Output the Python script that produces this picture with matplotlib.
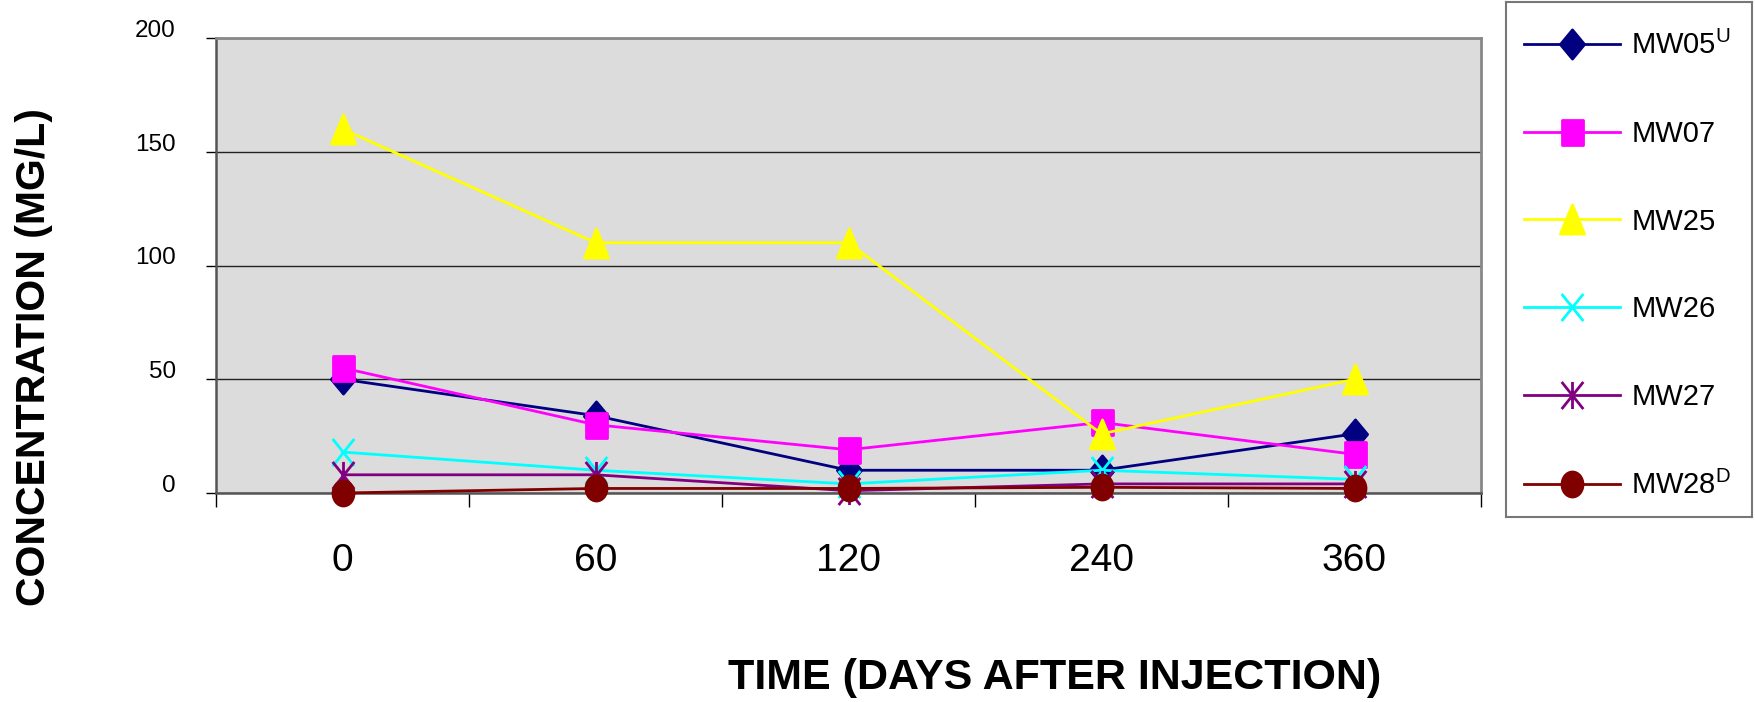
import matplotlib.pyplot as plt
import numpy as np
from matplotlib.path import Path
from matplotlib.transforms import ScaledTranslation

plt.rcParams['font.family'] = ['Liberation Sans', 'DejaVu Sans']
plt.rcParams['mathtext.fontset'] = 'custom'
plt.rcParams['mathtext.rm'] = 'Liberation Sans'

# data
days = ['0', '60', '120', '240', '360']
mw05 = [50, 34, 10, 10, 26]
mw07 = [55, 30, 19, 31, 17]
mw25 = [160, 110, 110, 26, 50]
mw26 = [18, 10, 4, 10, 6]
mw27 = [8, 8, 1, 4, 4]
mw28 = [0, 2, 2, 2.5, 2]

wells = [r'MW05$^{\mathrm{U}}$', 'MW07', 'MW25', 'MW26', 'MW27', r'MW28$^{\mathrm{D}}$']
series = [mw05, mw07, mw25, mw26, mw27, mw28]
colors = ['#000080', '#ff00ff', '#ffff00', '#00ffff', '#800080', '#800000']

# excel-like markers (a bit taller than wide)
L, M = Path.LINETO, Path.MOVETO
diamond = Path([(0, 1), (0.83, 0), (0, -1), (-0.83, 0), (0, 1)], closed=True)
square = Path([(-0.84, -1), (0.84, -1), (0.84, 1), (-0.84, 1), (-0.84, -1)], closed=True)
triangle = Path([(0, 1), (0.83, -1), (-0.83, -1), (0, 1)], closed=True)
xmark = Path([(-0.8, -1), (0.8, 1), (-0.8, 1), (0.8, -1)], [M, L, M, L])
star = Path([(-0.8, -1), (0.8, 1), (-0.8, 1), (0.8, -1), (0, -1), (0, 1)], [M, L, M, L, M, L])
circ = Path.unit_circle()
oval = Path(circ.vertices * np.array([0.84, 1.0]), circ.codes)

markers = [diamond, square, triangle, xmark, star, oval]
msizes = [21, 18, 21, 19.5, 19.5, 18]

fig = plt.figure(figsize=(17.55, 7.02), dpi=100)
ax = fig.add_axes([216 / 1755, 1 - 493 / 702, 1265 / 1755, 455 / 702])
ax.set_facecolor('#dcdcdc')

x = np.arange(len(days))
handles = []
for k in range(len(series)):
    h, = ax.plot(x, series[k], color=colors[k], lw=2.0, marker=markers[k],
                 markersize=msizes[k], markerfacecolor=colors[k],
                 markeredgecolor=colors[k], markeredgewidth=2.0,
                 label=wells[k], clip_on=False, zorder=3 + k)
    handles.append(h)

ax.set_xlim(-0.5, 4.5)
ax.set_ylim(0, 200)
ax.set_yticks([0, 50, 100, 150, 200])
ax.grid(axis='y', color='#222222', lw=1.0, zorder=1)
ax.set_axisbelow(True)

ax.set_xticks(x)
ax.set_xticklabels(days, fontsize=28)
ax.set_xticks(np.arange(-0.5, 5.0, 1.0), minor=True)
ax.tick_params(axis='x', which='major', length=0, pad=36)
ax.tick_params(axis='x', which='minor', length=10, width=1, color='black', direction='out')
ax.tick_params(axis='y', length=7, width=1, color='black', direction='out', labelsize=17.5, pad=22)
for lab in ax.get_yticklabels():
    lab.set_transform(lab.get_transform() + ScaledTranslation(0, 7 / 72, fig.dpi_scale_trans))

for s in ['top', 'right']:
    ax.spines[s].set_color('#888888')
    ax.spines[s].set_linewidth(2)
for s in ['left', 'bottom']:
    ax.spines[s].set_color('#555555')
    ax.spines[s].set_linewidth(1.8)

fig.text(1055 / 1755, 1 - 678 / 702, 'TIME (DAYS AFTER INJECTION)', fontsize=31,
         fontweight='bold', ha='center', va='center')
fig.text(34 / 1755, 1 - 357 / 702, 'CONCENTRATION (MG/L)', fontsize=29.5,
         fontweight='bold', ha='center', va='center', rotation=90)

# legend box
lax = fig.add_axes([1506 / 1755, 1 - 517 / 702, 246 / 1755, 515 / 702])
lax.set_xticks([])
lax.set_yticks([])
for s in lax.spines.values():
    s.set_color('#777777')
    s.set_linewidth(1.5)
lax.legend(handles=handles, loc='center left', bbox_to_anchor=(0, 0.5 - 6 / 515),
           frameon=False, fontsize=21, handlelength=3.3, handletextpad=0.4,
           labelspacing=2.05, borderaxespad=0.2, markerscale=1.0)

fig.savefig('out.png', dpi=100)
